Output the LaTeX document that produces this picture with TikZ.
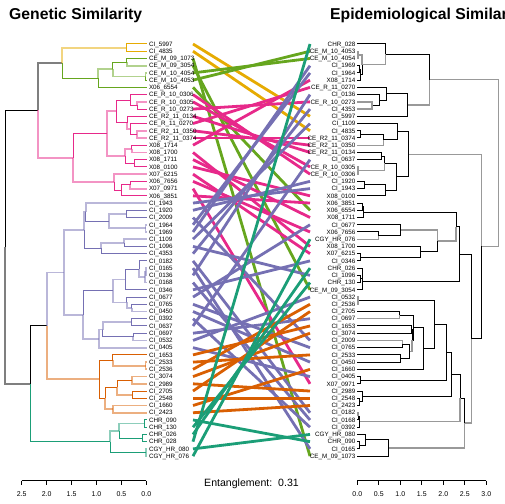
\documentclass[tikz,border=0pt]{standalone}
\usepackage{fontspec}
\setmainfont{Liberation Sans}
\definecolor{cY}{HTML}{E6AB02}
\definecolor{cG}{HTML}{66A61E}
\definecolor{cP}{HTML}{E7298A}
\definecolor{cU}{HTML}{7570B3}
\definecolor{cO}{HTML}{D95F02}
\definecolor{cT}{HTML}{1B9E77}
\definecolor{cK}{HTML}{000000}
\begin{document}
\begin{tikzpicture}[x=1bp,y=-1bp,
  e/.style={line width=1bp},
  d/.style={line width=1.8bp, draw opacity=0.5},
  g/.style={line width=1.4bp, draw=black!40},
  link/.style={line width=2.8bp},
  lab/.style={inner sep=0pt, font=\fontsize{6.3}{7}\selectfont},
  ticklab/.style={inner sep=0pt, font=\fontsize{7}{8}\selectfont},
  ttl/.style={inner sep=0pt, anchor=base west, font=\fontsize{15.8}{17}\selectfont\bfseries}]
\useasboundingbox (0,0) rectangle (504,504);

% titles
\node[ttl] (t1) at (9,20) {Genetic Similarity};
\node[ttl] (t2) at (330,20) {Epidemiological Similarity};

\begin{scope}[y=-7.23bp, yshift=-36.77bp]
% leaf coordinates
\foreach \i in {1,...,58} {
  \coordinate (l\i) at (146.7,\i);
  \coordinate (r\i) at (357.3,\i);
  \coordinate (ca\i) at (193,\i);
  \coordinate (cb\i) at (310,\i);
}
% connectors
\foreach \i/\j/\co in {1/11/cY, 2/13/cY, 3/58/cG, 4/35/cG, 5/3/cG, 6/2/cG, 7/24/cG,
  8/19/cP, 9/18/cP, 10/9/cP, 11/16/cP, 12/7/cP, 13/15/cP, 14/14/cP, 15/6/cP, 16/29/cP,
  17/25/cP, 18/22/cP, 19/30/cP, 20/27/cP, 21/48/cP, 22/23/cP,
  23/21/cU, 24/20/cU, 25/42/cU, 26/5/cU, 27/4/cU, 28/12/cU, 29/33/cU, 30/10/cU, 31/52/cU,
  32/57/cU, 33/8/cU, 34/53/cU, 35/31/cU, 36/26/cU, 37/43/cU, 38/45/cU, 39/54/cU, 40/17/cU,
  41/39/cU, 42/36/cU, 43/47/cU,
  44/40/cO, 45/44/cO, 46/37/cO, 47/41/cO, 48/49/cO, 49/38/cO, 50/50/cO, 51/46/cO, 52/51/cO,
  53/56/cT, 54/34/cT, 55/32/cT, 56/1/cT, 57/55/cT, 58/28/cT}
  \draw[link, \co] (ca\i) -- (cb\j);

% left labels
\foreach \i/\t in {1/CI\_5997, 2/CI\_4835, 3/CE\_M\_09\_1073, 4/CE\_M\_09\_3054, 5/CE\_M\_10\_4054,
  6/CE\_M\_10\_4053, 7/X06\_6554, 8/CE\_R\_10\_0306, 9/CE\_R\_10\_0305, 10/CE\_R\_10\_0273,
  11/CE\_R2\_11\_0134, 12/CE\_R\_11\_0270, 13/CE\_R2\_11\_0350, 14/CE\_R2\_11\_0374, 15/X08\_1714,
  16/X08\_1700, 17/X08\_1711, 18/X08\_0100, 19/X07\_6215, 20/X06\_7656, 21/X07\_0971, 22/X06\_3851,
  23/CI\_1943, 24/CI\_1920, 25/CI\_2009, 26/CI\_1964, 27/CI\_1969, 28/CI\_1109, 29/CI\_1096,
  30/CI\_4353, 31/CI\_0182, 32/CI\_0165, 33/CI\_0136, 34/CI\_0168, 35/CI\_0346, 36/CI\_0677,
  37/CI\_0765, 38/CI\_0450, 39/CI\_0392, 40/CI\_0637, 41/CI\_0697, 42/CI\_0532, 43/CI\_0405,
  44/CI\_1653, 45/CI\_2533, 46/CI\_2536, 47/CI\_3074, 48/CI\_2989, 49/CI\_2705, 50/CI\_2548,
  51/CI\_1660, 52/CI\_2423, 53/CHR\_090, 54/CHR\_130, 55/CHR\_026, 56/CHR\_028,
  57/CGY\_HR\_080, 58/CGY\_HR\_076}
  \node[lab, anchor=base west, yshift=-2.25bp] (labl\i) at (148.8,\i) {\t};

% right labels
\foreach \i/\t in {1/CHR\_028, 2/CE\_M\_10\_4053, 3/CE\_M\_10\_4054, 4/CI\_1969, 5/CI\_1964,
  6/X08\_1714, 7/CE\_R\_11\_0270, 8/CI\_0136, 9/CE\_R\_10\_0273, 10/CI\_4353, 11/CI\_5997,
  12/CI\_1109, 13/CI\_4835, 14/CE\_R2\_11\_0374, 15/CE\_R2\_11\_0350, 16/CE\_R2\_11\_0134,
  17/CI\_0637, 18/CE\_R\_10\_0305, 19/CE\_R\_10\_0306, 20/CI\_1920, 21/CI\_1943, 22/X08\_0100,
  23/X06\_3851, 24/X06\_6554, 25/X08\_1711, 26/CI\_0677, 27/X06\_7656, 28/CGY\_HR\_076,
  29/X08\_1700, 30/X07\_6215, 31/CI\_0346, 32/CHR\_026, 33/CI\_1096, 34/CHR\_130,
  35/CE\_M\_09\_3054, 36/CI\_0532, 37/CI\_2536, 38/CI\_2705, 39/CI\_0697, 40/CI\_1653,
  41/CI\_3074, 42/CI\_2009, 43/CI\_0765, 44/CI\_2533, 45/CI\_0450, 46/CI\_1660, 47/CI\_0405,
  48/X07\_0971, 49/CI\_2989, 50/CI\_2548, 51/CI\_2423, 52/CI\_0182, 53/CI\_0168, 54/CI\_0392,
  55/CGY\_HR\_080, 56/CHR\_090, 57/CI\_0165, 58/CE\_M\_09\_1073}
  \node[lab, anchor=base east, yshift=-2.25bp] (labr\i) at (355.5,\i) {\t};

% left dendrogram nodes
\foreach \n/\x/\p in {lroot/5/29.1, A/38.3/10.195, YG/62.3/3.625, Y1/126.7/1.5,
  G1/126.7/3.5, G2/145.5/5.5, G3/112.7/4.5, G4/98.3/5.75,
  P1/137.3/9.5, P2/130/8.75, P3/137.3/13.5, P4/130/12.75, P5/127.3/11.875, P6/116.3/10.3125,
  P7/131.7/15.5, P8/134.3/17.5, P9/125/16.5, P10/106.7/13.406, P11/130/20.5, P12/121.7/21.25,
  P13/114.3/20.125, P14/73.3/16.766,
  U1/126.7/24.5, U2/145.5/26.5, U3/109.3/25.5, U4/85.7/24.25, U5/124/28.5, U6/101/29.25,
  U7/84.3/26.75, U8/145.8/32.5, U9/145/33.25, U10/139.3/32.125, U11/125.3/33.5625,
  U12/131.7/37.5, U13/126.7/36.75, U14/113.3/35.156, U15/131.7/39.5, U16/133.3/41.5,
  U17/102.7/40.5, U18/99.3/41.75, U19/83.3/38.453, U20/63.7/32.6,
  O1/145.5/45.5, O2/112.7/44.75, O3/132.3/47.5, O4/132.3/49.5, O5/117.3/48.5, O6/113.3/51.5,
  O7/105.3/50, O8/99.3/47.375, B2/46.7/39.99,
  T1/144.3/53.5, T2/142.7/55.5, T3/119.3/54.5, T4/145.8/57.5, T5/110/56, B/30.3/48}
  \coordinate (\n) at (\x,\p);

% left dendrogram edges
\foreach \pa/\ch/\co/\st in {lroot/A/cK/e, lroot/B/cK/d, A/YG/cK/d, A/P14/cP/d,
  YG/Y1/cY/d, YG/G4/cG/e, Y1/l1/cY/e, Y1/l2/cY/e,
  G4/G3/cG/d, G4/l7/cG/e, G3/G1/cG/e, G3/G2/cG/d, G1/l3/cG/e, G1/l4/cG/d, G2/l5/cG/d, G2/l6/cG/e,
  P14/P10/cP/e, P14/P13/cP/d, P10/P6/cP/d, P10/P9/cP/d, P6/P2/cP/e, P6/P5/cP/e,
  P2/l8/cP/e, P2/P1/cP/e, P1/l9/cP/d, P1/l10/cP/e, P5/l11/cP/e, P5/P4/cP/d,
  P4/l12/cP/e, P4/P3/cP/e, P3/l13/cP/d, P3/l14/cP/d, P9/P7/cP/d, P9/P8/cP/e,
  P7/l15/cP/e, P7/l16/cP/d, P8/l17/cP/e, P8/l18/cP/e, P13/l19/cP/d, P13/P12/cP/e,
  P12/P11/cP/e, P12/l22/cP/e, P11/l20/cP/e, P11/l21/cP/d,
  B/B2/cK/e, B/T5/cT/e, B2/U20/cU/d, B2/O8/cO/d,
  U20/U7/cU/d, U20/U19/cU/d, U7/U4/cU/d, U7/U6/cU/e, U4/l23/cU/d, U4/U3/cU/e,
  U3/U1/cU/d, U3/U2/cU/d, U1/l24/cU/e, U1/l25/cU/e, U2/l26/cU/d, U2/l27/cU/d,
  U6/U5/cU/d, U6/l30/cU/e, U5/l28/cU/d, U5/l29/cU/e,
  U19/U14/cU/e, U19/U18/cU/d, U14/U11/cU/d, U14/U13/cU/d, U11/U10/cU/e, U11/l35/cU/e,
  U10/l31/cU/e, U10/U9/cU/d, U9/U8/cU/d, U9/l34/cU/d, U8/l32/cU/d, U8/l33/cU/d,
  U13/l36/cU/e, U13/U12/cU/d, U12/l37/cU/e, U12/l38/cU/d,
  U18/U17/cU/d, U18/l43/cU/d, U17/U15/cU/d, U17/U16/cU/e,
  U15/l39/cU/e, U15/l40/cU/e, U16/l41/cU/e, U16/l42/cU/d,
  O8/O2/cO/e, O8/O7/cO/e, O2/l44/cO/e, O2/O1/cO/d, O1/l45/cO/d, O1/l46/cO/d,
  O7/O5/cO/e, O7/O6/cO/d, O5/O3/cO/e, O5/O4/cO/d, O3/l47/cO/d, O3/l48/cO/d,
  O4/l49/cO/e, O4/l50/cO/e, O6/l51/cO/d, O6/l52/cO/d,
  T5/T3/cT/d, T5/T4/cT/e, T3/T1/cT/d, T3/T2/cT/e, T1/l53/cT/e, T1/l54/cT/e,
  T2/l55/cT/e, T2/l56/cT/e, T4/l57/cT/d, T4/l58/cT/d}
  \draw[\st, draw=\co] (\pa) |- (\ch);

% right dendrogram nodes
\foreach \n/\x/\p in {RR/498.3/17.47, Rtop/429.3/5.9375, RM/481.7/29.0, Rb/385.7/2.4375,
  Ra/362/3.875, R23/358/2.5, R45/359.3/4.5, R456/360.3/5.25, Rc/407.7/9.4375, R7/386.7/7.875,
  R8/379.3/8.75, R910/372/9.5, Rmid/408.3/16.25, R12/397.3/13.125, R1315/383.3/14.25,
  R1314/360/13.5, R1622/396.7/19.375, R1619/384.3/17.5, R1617/381/16.5, R1819/358/18.5,
  R2022/385.3/21.25, R2021/364/20.5, RL/471.7/41.74, R2335/459.3/30.0625, R2331/456/26.25,
  R2325/363.3/24.25, R2324/362/23.5, R2631/437.3/28.25, R2628/400.3/26.75, R2728/378.3/27.5,
  R2931/420.3/29.75, R3031/360/30.5, R3235/362.7/33.875, R3234/362/32.75, R3334/360/33.5,
  RK/464.3/53.42, RJ/460/49.97, RI/451.7/46.70, RH/446.7/43.656, RG/434.7/39.8125,
  R3637/358/36.5, RF/423.3/43.125, RE/413.3/40.25, R3839/399.3/38.5, RD/412/42,
  R4041/411/40.5, RC/409.7/43.5, R4243/402.7/42.5, R4445/400.3/44.5, R4748/360/47.5,
  R4951/362.7/49.75, R5051/359.3/50.5, R5254/359.3/53.25, R5253/358/52.5,
  R5558/388.3/56.875, R5557/365/55.75, R5657/359.3/56.5}
  \coordinate (\n) at (\x,\p);

% right dendrogram edges
\foreach \pa/\ch/\st in {RR/Rtop/g, RR/RM/g, Rtop/Rb/e, Rtop/Rc/g, Rb/r1/e, Rb/Ra/g,
  Ra/R23/g, Ra/R456/e, R23/r2/g, R23/r3/g, R456/R45/e, R456/r6/e, R45/r4/e, R45/r5/e,
  Rc/R7/e, Rc/r11/e, R7/r7/e, R7/R8/e, R8/r8/e, R8/R910/e, R910/r9/g, R910/r10/g,
  RM/Rmid/g, RM/RL/e, Rmid/R12/e, Rmid/R1622/e, R12/r12/e, R12/R1315/e,
  R1315/R1314/e, R1315/r15/g, R1314/r13/e, R1314/r14/e, R1622/R1619/e, R1622/R2022/e,
  R1619/R1617/e, R1619/R1819/g, R1617/r16/e, R1617/r17/e, R1819/r18/g, R1819/r19/g,
  R2022/R2021/e, R2022/r22/e, R2021/r20/e, R2021/r21/e,
  RL/R2335/e, RL/RK/g, R2335/R2331/e, R2335/R3235/e, R2331/R2325/e, R2331/R2631/g,
  R2325/R2324/e, R2325/r25/e, R2324/r23/e, R2324/r24/e, R2631/R2628/g, R2631/R2931/e,
  R2628/r26/e, R2628/R2728/e, R2728/r27/e, R2728/r28/g, R2931/r29/e, R2931/R3031/e,
  R3031/r30/e, R3031/r31/e, R3235/R3234/e, R3235/r35/e, R3234/r32/e, R3234/R3334/e,
  R3334/r33/e, R3334/r34/e,
  RK/RJ/e, RK/R5558/g, RJ/RI/e, RJ/R5254/g, RI/RH/e, RI/R4951/e, RH/RG/e, RH/R4748/e,
  RG/R3637/e, RG/RF/e, R3637/r36/g, R3637/r37/g, RF/RE/e, RF/r46/e, RE/R3839/e, RE/RD/e,
  R3839/r38/e, R3839/r39/g, RD/R4041/e, RD/RC/g, R4041/r40/e, R4041/r41/e,
  RC/R4243/e, RC/R4445/e, R4243/r42/g, R4243/r43/e, R4445/r44/e, R4445/r45/e,
  R4748/r47/e, R4748/r48/e, R4951/r49/e, R4951/R5051/e, R5051/r50/e, R5051/r51/e,
  R5254/R5253/e, R5254/r54/e, R5253/r52/g, R5253/r53/e,
  R5558/R5557/e, R5558/r58/e, R5557/r55/e, R5557/R5657/e, R5657/r56/e, R5657/r57/e}
  \draw[\st] (\pa) |- (\ch);
\end{scope}

% axes
\coordinate (axl0) at (21.7,480.7);
\coordinate (axl1) at (146.3,480.7);
\draw[line width=0.7bp] (axl0) -- (axl1);
\foreach \k/\t in {0/2.5,1/2.0,2/1.5,3/1.0,4/0.5,5/0.0} {
  \draw[line width=0.7bp] ([xshift=\k*24.92bp]axl0) -- ++(0,4);
  \node[ticklab] (tl\k) at ([xshift=\k*24.92bp, yshift=-13.6bp]axl0) {\t};
}
\coordinate (axr0) at (357.3,480.7);
\coordinate (axr1) at (486.3,480.7);
\draw[line width=0.7bp] (axr0) -- (axr1);
\foreach \k/\t in {0/0.0,1/0.5,2/1.0,3/1.5,4/2.0,5/2.5,6/3.0} {
  \draw[line width=0.7bp] ([xshift=\k*21.5bp]axr0) -- ++(0,4);
  \node[ticklab] (tr\k) at ([xshift=\k*21.5bp, yshift=-13.6bp]axr0) {\t};
}
\node[inner sep=0pt, font=\fontsize{10.6}{12}\selectfont] (ent) at (251.5,484) {Entanglement:\ \ 0.31};
\end{tikzpicture}
\end{document}
